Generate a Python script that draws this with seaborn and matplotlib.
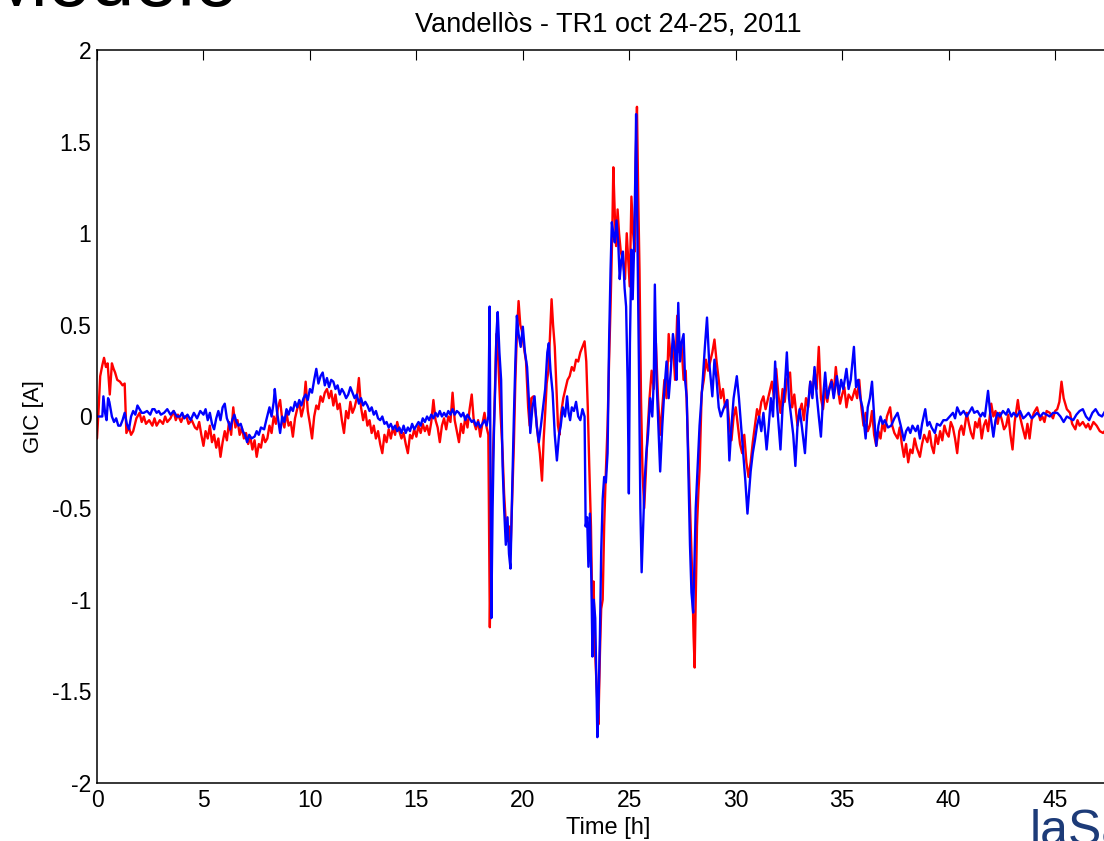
import numpy as np
import pandas as pd
import matplotlib
matplotlib.use("Agg")
import matplotlib.pyplot as plt
import seaborn as sns
from matplotlib.ticker import FuncFormatter

# ---------------- data ----------------
red_time = [0.0,0.08,0.15,0.25,0.33,0.42,0.5,0.6,0.7,0.78,0.85,0.95,1.08,1.2,1.3,1.38,1.5,1.6,1.7,1.85,
2.0,2.1,2.2,2.3,2.45,2.6,2.7,2.8,2.95,3.1,3.2,3.3,3.45,3.6,3.7,3.8,3.95,4.05,4.2,4.3,4.45,4.6,4.7,4.8,4.9,
5.0,5.1,5.2,5.3,5.4,5.5,5.6,5.7,5.8,5.9,6.0,6.1,6.2,6.3,6.4,6.5,6.6,6.7,6.8,6.9,7.0,7.1,7.2,7.3,7.4,7.5,
7.6,7.7,7.8,7.9,8.0,8.1,8.2,8.3,8.4,8.5,8.6,8.7,8.8,8.9,9.0,9.1,9.2,9.3,9.4,9.5,9.6,9.7,9.8,9.9,10.0,10.1,
10.2,10.3,10.4,10.5,10.6,10.7,10.8,10.9,11.0,11.1,11.2,11.3,11.4,11.5,11.6,11.7,11.8,11.9,12.0,12.1,12.2,
12.3,12.4,12.5,12.6,12.7,12.8,12.9,13.0,13.1,13.2,13.3,13.4,13.5,13.6,13.7,13.8,13.9,14.0,14.1,14.2,14.3,
14.4,14.5,14.6,14.7,14.8,14.9,15.0,15.1,15.2,15.3,15.4,15.5,15.6,15.7,15.8,15.9,16.0,16.1,16.2,16.3,16.4,
16.5,16.6,16.7,16.8,16.9,17.0,17.1,17.2,17.3,17.4,17.5,17.6,17.7,17.8,17.9,18.0,18.1,18.2,18.3,18.38,18.45,
18.52,18.6,18.68,18.76,18.85,18.95,19.05,19.12,19.25,19.35,19.42,19.5,19.58,19.65,19.72,19.8,19.88,19.95,
20.05,20.15,20.25,20.32,20.4,20.5,20.6,20.7,20.8,20.9,20.98,21.05,21.12,21.2,21.28,21.35,21.42,21.5,21.58,
21.65,21.72,21.8,21.9,22.0,22.1,22.2,22.3,22.4,22.5,22.6,22.7,22.8,22.9,22.98,23.05,23.12,23.2,23.26,23.32,
23.4,23.48,23.55,23.62,23.68,23.75,23.82,23.9,23.98,24.05,24.12,24.2,24.25,24.32,24.38,24.45,24.52,24.6,
24.7,24.8,24.88,24.95,25.02,25.1,25.18,25.25,25.3,25.36,25.42,25.48,25.55,25.62,25.7,25.78,25.85,25.95,
26.05,26.15,26.25,26.35,26.45,26.55,26.65,26.75,26.85,26.95,27.05,27.15,27.25,27.35,27.45,27.55,27.65,
27.72,27.8,27.88,27.95,28.02,28.07,28.12,28.18,28.25,28.3,28.4,28.5,28.6,28.7,28.8,28.9,29.0,29.1,29.2,
29.3,29.4,29.5,29.6,29.7,29.8,29.9,30.0,30.1,30.2,30.3,30.4,30.5,30.6,30.7,30.8,30.9,31.0,31.1,31.2,31.3,
31.4,31.5,31.6,31.7,31.8,31.9,32.0,32.1,32.2,32.3,32.4,32.55,32.65,32.75,32.9,33.0,33.1,33.2,33.3,33.4,
33.5,33.6,33.7,33.8,33.9,34.0,34.1,34.2,34.3,34.4,34.5,34.6,34.7,34.8,34.9,35.0,35.1,35.2,35.3,35.45,35.6,
35.7,35.8,35.9,36.0,36.1,36.2,36.3,36.4,36.5,36.6,36.7,36.8,36.9,37.0,37.1,37.25,37.35,37.45,37.6,37.7,
37.8,37.9,38.0,38.1,38.2,38.3,38.4,38.5,38.65,38.75,38.85,39.0,39.1,39.2,39.3,39.4,39.5,39.6,39.7,39.8,
39.9,40.0,40.1,40.2,40.3,40.4,40.5,40.6,40.7,40.85,40.95,41.05,41.15,41.25,41.35,41.45,41.55,41.65,41.75,
41.85,42.0,42.1,42.2,42.3,42.4,42.5,42.6,42.7,42.8,42.9,43.0,43.1,43.25,43.35,43.45,43.6,43.7,43.8,43.9,
44.0,44.15,44.3,44.4,44.5,44.6,44.75,44.9,45.0,45.1,45.2,45.3,45.4,45.55,45.7,45.8,45.95,46.05,46.15,46.3,
46.45,46.55,46.65,46.8,46.95,47.1,47.25,47.4,47.6,47.8,48.0]
red_gic = [-0.12,0.05,0.22,0.28,0.32,0.27,0.29,0.12,0.29,0.26,0.24,0.2,0.19,0.17,0.18,-0.09,-0.06,-0.1,-0.08,-0.01,
0.02,-0.03,0.0,-0.04,-0.02,-0.05,-0.01,-0.05,-0.02,-0.04,0.0,-0.03,-0.01,0.03,-0.02,0.01,-0.03,0.0,0.0,-0.04,-0.02,-0.06,-0.07,-0.03,-0.1,
-0.16,-0.08,-0.12,-0.05,-0.14,-0.1,-0.17,-0.12,-0.22,-0.14,-0.08,-0.13,-0.03,-0.1,0.05,-0.06,-0.02,-0.1,-0.06,-0.12,-0.09,-0.15,-0.11,-0.18,-0.13,-0.22,
-0.15,-0.17,-0.1,-0.14,-0.12,-0.05,-0.09,0.0,-0.04,0.05,0.09,-0.02,-0.06,0.02,-0.05,-0.03,-0.11,-0.01,0.04,0.08,0.0,0.05,0.19,0.03,-0.04,-0.12,
0.0,0.06,0.04,0.11,0.08,0.13,0.15,0.1,0.14,0.06,0.12,0.04,0.07,-0.02,-0.09,0.03,-0.01,0.08,0.02,0.05,0.1,
0.21,0.05,-0.02,0.03,-0.05,-0.02,-0.09,-0.05,-0.12,-0.08,-0.15,-0.2,-0.1,-0.14,-0.07,-0.12,-0.06,-0.1,-0.03,-0.08,-0.12,
-0.09,-0.15,-0.2,-0.1,-0.12,-0.07,-0.11,-0.05,-0.09,-0.04,-0.08,-0.05,-0.1,-0.03,0.09,-0.02,-0.06,-0.14,-0.05,-0.01,-0.07,
0.0,-0.03,0.13,-0.02,-0.08,-0.14,-0.04,-0.09,0.0,-0.06,0.04,0.12,-0.03,-0.07,-0.02,-0.11,-0.04,0.02,-0.06,-0.1,-1.15,
-0.6,-0.2,0.1,0.45,0.3,0.02,-0.2,-0.42,-0.68,-0.6,-0.75,-0.45,-0.15,0.2,0.45,0.63,0.5,0.47,
0.38,0.3,0.05,-0.05,0.1,0.11,0.02,-0.1,-0.2,-0.35,-0.12,0.02,0.18,0.25,0.45,0.64,0.5,0.38,0.15,
-0.05,-0.1,0.02,0.1,0.15,0.2,0.22,0.27,0.25,0.31,0.3,0.35,0.38,0.41,0.3,0.05,-0.27,-0.6,-1.04,-0.9,
-1.3,-1.51,-1.68,-1.3,-1.05,-1.0,-0.6,-0.3,-0.05,0.3,0.6,1.0,1.36,1.1,0.93,1.13,1.0,0.9,
0.85,0.75,1.0,0.85,0.71,1.2,1.0,0.9,1.4,1.69,1.2,0.8,0.1,-0.3,-0.5,-0.3,-0.1,0.1,
0.25,0.15,0.4,0.1,-0.1,0.05,0.2,0.1,0.45,0.3,0.4,0.2,0.55,0.35,0.4,0.2,0.25,
0.0,-0.3,-0.6,-0.85,-1.2,-1.37,-1.0,-0.6,-0.4,-0.29,0.13,0.2,0.31,0.25,0.3,0.35,0.42,0.3,0.2,
0.1,0.15,0.05,0.09,-0.05,-0.13,0.0,0.05,-0.05,-0.15,-0.2,-0.1,-0.25,-0.33,-0.25,-0.14,-0.05,0.04,0.0,0.08,0.11,
0.04,0.09,0.14,0.19,0.1,0.26,0.12,0.02,0.15,0.08,0.2,0.24,0.05,0.12,-0.05,0.03,0.07,-0.02,0.1,0.05,
0.19,0.12,0.25,0.15,0.38,0.1,0.04,0.15,0.08,0.16,0.2,0.12,0.27,0.15,0.07,0.12,0.16,0.05,0.12,0.09,0.15,
0.1,0.2,0.05,-0.05,0.02,-0.08,-0.05,0.03,-0.1,-0.16,-0.08,-0.12,-0.03,-0.08,0.0,0.05,-0.05,-0.09,-0.12,-0.06,
-0.15,-0.22,-0.15,-0.25,-0.18,-0.2,-0.12,-0.17,-0.22,-0.15,-0.1,-0.14,-0.08,-0.16,-0.2,-0.1,-0.15,-0.08,-0.13,-0.05,
-0.09,-0.11,-0.03,-0.06,-0.12,-0.2,-0.08,-0.05,-0.1,0.02,-0.04,-0.09,-0.12,-0.03,-0.06,-0.01,-0.12,-0.05,-0.02,
-0.08,0.07,0.0,0.03,-0.04,0.02,-0.02,-0.07,-0.05,0.01,-0.1,-0.18,-0.03,0.09,0.0,-0.05,-0.12,-0.04,-0.12,-0.02,
0.02,0.05,-0.02,0.0,-0.03,0.03,0.02,-0.01,0.03,0.04,0.08,0.19,0.1,0.04,0.02,-0.04,-0.07,-0.02,-0.05,-0.03,
-0.06,-0.04,-0.07,-0.03,-0.05,-0.08,-0.09,-0.07,-0.1,-0.08,-0.1]

blue_time = [0.0,0.25,0.3,0.38,0.45,0.52,0.58,0.7,0.8,0.9,1.0,1.1,1.2,1.3,1.4,1.5,1.6,1.7,1.8,1.9,2.0,2.1,2.2,
2.35,2.5,2.6,2.7,2.8,2.9,3.0,3.15,3.3,3.45,3.6,3.75,3.9,4.0,4.1,4.25,4.4,4.55,4.7,4.85,5.0,5.1,5.2,5.3,5.4,
5.5,5.6,5.7,5.8,5.9,6.0,6.1,6.2,6.25,6.35,6.45,6.55,6.65,6.75,6.85,6.95,7.05,7.15,7.25,7.4,7.5,7.6,7.7,7.85,
7.95,8.1,8.2,8.3,8.35,8.45,8.55,8.6,8.7,8.8,8.9,9.0,9.1,9.2,9.3,9.4,9.5,9.6,9.7,9.8,9.9,10.0,10.1,10.2,10.3,
10.4,10.5,10.6,10.7,10.8,10.9,11.0,11.1,11.2,11.3,11.4,11.5,11.6,11.7,11.8,11.9,12.0,12.1,12.2,12.3,12.4,
12.5,12.6,12.7,12.8,12.9,13.0,13.1,13.2,13.3,13.4,13.5,13.6,13.7,13.8,13.9,14.0,14.1,14.2,14.3,14.4,14.5,
14.6,14.7,14.8,14.9,15.0,15.1,15.2,15.3,15.4,15.5,15.6,15.7,15.8,15.9,16.0,16.1,16.2,16.3,16.4,16.5,16.6,
16.7,16.8,16.9,17.0,17.1,17.2,17.3,17.4,17.5,17.6,17.7,17.8,17.9,18.0,18.1,18.2,18.3,18.38,18.44,18.48,18.52,
18.58,18.64,18.7,18.76,18.82,18.9,18.98,19.05,19.12,19.2,19.28,19.35,19.42,19.5,19.58,19.65,19.72,19.8,
19.9,20.0,20.1,20.2,20.28,20.35,20.45,20.55,20.65,20.75,20.85,20.95,21.05,21.15,21.22,21.3,21.4,21.5,21.6,
21.7,21.78,21.88,21.98,22.08,22.15,22.22,22.3,22.4,22.5,22.6,22.7,22.8,22.9,22.95,23.02,23.08,23.15,23.22,
23.27,23.33,23.4,23.46,23.5,23.55,23.62,23.68,23.75,23.82,23.9,23.98,24.05,24.12,24.18,24.25,24.32,24.4,
24.48,24.55,24.62,24.7,24.78,24.85,24.92,24.98,25.03,25.1,25.16,25.22,25.28,25.32,25.38,25.45,25.52,25.58,
25.65,25.72,25.8,25.88,25.98,26.08,26.15,26.2,26.28,26.38,26.45,26.55,26.65,26.75,26.85,26.95,27.05,27.15,
27.22,27.3,27.38,27.45,27.55,27.62,27.7,27.78,27.85,27.92,28.0,28.06,28.12,28.2,28.3,28.45,28.55,28.65,
28.75,28.9,29.0,29.1,29.2,29.3,29.45,29.6,29.7,29.8,29.9,30.05,30.15,30.25,30.35,30.45,30.55,30.62,30.7,
30.8,30.9,31.0,31.1,31.2,31.3,31.45,31.55,31.65,31.75,31.85,31.95,32.05,32.1,32.2,32.3,32.4,32.5,32.6,32.7,
32.8,32.9,33.0,33.1,33.25,33.35,33.5,33.6,33.7,33.8,33.9,34.0,34.1,34.2,34.3,34.4,34.5,34.6,34.75,34.85,
34.95,35.05,35.2,35.3,35.4,35.55,35.65,35.75,35.85,35.95,36.1,36.2,36.3,36.4,36.5,36.6,36.7,36.8,36.9,37.0,
37.15,37.3,37.45,37.6,37.75,37.9,38.0,38.1,38.2,38.3,38.45,38.55,38.65,38.75,38.9,39.0,39.1,39.2,39.35,
39.45,39.6,39.75,39.9,40.05,40.2,40.3,40.4,40.55,40.7,40.85,41.0,41.1,41.2,41.35,41.5,41.6,41.7,41.85,41.95,
42.1,42.2,42.3,42.4,42.55,42.7,42.8,42.95,43.05,43.2,43.35,43.5,43.6,43.75,43.9,44.0,44.15,44.3,44.45,44.6,
44.75,44.9,45.1,45.25,45.4,45.55,45.7,45.85,46.0,46.15,46.3,46.45,46.6,46.75,46.9,47.05,47.2,47.35,47.5,
47.7,47.85,48.0]
blue_gic = [0.0,0.0,0.11,0.02,-0.02,0.1,0.08,0.0,-0.03,-0.01,-0.05,-0.05,-0.02,0.02,-0.04,-0.07,0.0,0.03,0.01,0.06,0.04,0.02,0.02,
0.03,0.01,0.04,0.04,0.02,0.03,0.01,0.02,0.04,0.01,0.03,0.0,0.0,0.02,-0.01,0.01,-0.02,0.02,-0.01,0.03,0.01,0.04,-0.02,0.02,-0.04,
-0.07,-0.01,0.03,-0.02,0.05,0.07,-0.01,-0.04,-0.07,-0.02,0.01,-0.03,-0.05,-0.04,-0.08,-0.1,-0.14,-0.1,-0.12,-0.11,-0.08,-0.1,-0.06,-0.07,
-0.02,0.05,0.0,0.08,0.15,0.03,-0.05,-0.09,0.0,-0.03,0.04,0.01,0.05,0.03,0.08,0.05,0.09,0.06,0.1,0.12,0.09,0.15,0.13,0.2,0.26,
0.18,0.22,0.24,0.17,0.21,0.16,0.2,0.19,0.15,0.17,0.12,0.15,0.13,0.1,0.12,0.16,0.13,0.1,0.12,0.07,0.1,
0.06,0.08,0.06,0.03,0.05,0.01,0.03,-0.01,-0.02,0.0,-0.04,-0.03,-0.06,-0.04,-0.07,-0.05,-0.08,-0.06,-0.09,-0.05,-0.09,
-0.06,-0.08,-0.04,-0.07,-0.05,-0.03,-0.05,-0.01,-0.03,0.0,-0.02,0.01,-0.01,0.02,0.0,0.03,0.0,0.02,0.0,0.03,0.01,
0.04,0.01,0.03,0.02,0.0,0.02,-0.02,0.01,-0.01,-0.03,-0.02,-0.05,-0.03,-0.06,-0.04,-0.02,-0.05,0.0,0.6,-0.2,-1.1,
-0.5,-0.1,0.15,0.45,0.57,0.35,0.2,-0.27,-0.5,-0.7,-0.55,-0.75,-0.83,-0.4,0.0,0.3,0.55,0.45,
0.38,0.49,0.35,0.27,0.1,-0.09,0.05,0.11,-0.05,-0.14,-0.05,0.05,0.15,0.35,0.4,0.25,0.13,-0.1,-0.24,
-0.1,-0.05,0.05,0.0,0.11,0.02,-0.02,0.05,0.03,0.08,0.0,-0.02,0.04,0.0,-0.6,-0.55,-0.82,-0.53,-0.9,
-1.31,-1.0,-1.1,-1.5,-1.75,-1.6,-1.2,-0.74,-0.45,-0.33,-0.36,-0.2,0.4,0.8,1.06,1.0,0.95,1.07,
0.95,0.75,0.85,0.9,0.7,0.6,0.2,-0.42,0.4,0.91,0.64,0.9,1.3,1.65,1.0,0.3,-0.5,-0.85,
-0.6,-0.36,-0.2,-0.1,0.1,0.0,0.2,0.72,0.2,-0.1,-0.3,-0.05,0.15,0.3,0.1,0.25,0.45,0.35,
0.2,0.62,0.3,0.4,0.45,0.2,0.1,-0.33,-0.7,-0.96,-1.07,-0.8,-0.5,-0.3,-0.05,0.2,0.38,0.54,
0.3,0.11,0.31,0.2,0.05,0.0,0.05,0.09,-0.24,-0.05,0.1,0.22,0.1,-0.05,-0.2,-0.35,-0.53,-0.42,-0.3,
-0.2,-0.13,-0.05,0.0,-0.08,0.02,-0.18,-0.05,0.1,0.0,0.3,0.05,-0.1,-0.18,0.05,0.15,0.35,0.1,0.0,-0.1,
-0.27,-0.05,0.04,-0.05,-0.2,0.0,0.19,0.1,0.27,0.12,0.0,-0.11,0.1,0.24,0.1,0.15,0.19,0.1,0.22,0.12,
0.2,0.15,0.26,0.15,0.2,0.38,0.16,0.2,0.1,0.05,-0.12,0.05,0.1,0.19,0.0,-0.16,-0.05,0.0,-0.04,-0.02,
-0.06,-0.05,-0.01,0.02,-0.05,-0.13,-0.08,-0.06,-0.09,-0.05,-0.08,-0.05,-0.12,-0.04,0.04,-0.05,-0.03,-0.06,-0.09,
-0.04,-0.05,-0.02,-0.02,0.0,0.02,-0.01,0.05,0.01,0.03,0.0,0.03,0.05,0.02,0.03,0.0,0.02,0.0,0.14,0.02,
-0.11,-0.02,0.02,0.0,0.03,0.01,0.04,0.0,0.02,0.0,0.03,-0.01,0.0,0.02,-0.01,0.0,0.02,0.0,0.02,0.01,
0.0,0.02,0.02,0.0,-0.03,0.0,-0.01,-0.02,0.01,0.03,0.04,0.0,-0.02,0.02,0.04,0.01,0.0,0.03,0.01,
0.03,0.0,0.02]

title_text = "Vandellòs - TR1 oct 24-25, 2011"
x_label = "Time [h]"
y_label = "GIC [A]"
x_ticks = [0, 5, 10, 15, 20, 25, 30, 35, 40, 45]
y_ticks = [-2, -1.5, -1, -0.5, 0, 0.5, 1, 1.5, 2]

# ---------------- figure ----------------
sns.set_theme(style="white")
plt.rcParams["font.family"] = ["Liberation Sans", "DejaVu Sans"]
plt.rcParams["axes.unicode_minus"] = False

W, H = 1104, 841
fig = plt.figure(figsize=(W / 100, H / 100), dpi=100)
fig.patch.set_facecolor("white")
# axes: left edge x=97px, top y=50px, bottom y=783px, right edge beyond the image
ax = fig.add_axes([97 / W, (H - 783) / H, (1119 - 97) / W, 733 / H])

red_df = pd.DataFrame({"t": red_time, "gic": red_gic})
blue_df = pd.DataFrame({"t": blue_time, "gic": blue_gic})
sns.lineplot(data=red_df, x="t", y="gic", ax=ax, color="#ff0000", lw=1.7,
             estimator=None, sort=False)
sns.lineplot(data=blue_df, x="t", y="gic", ax=ax, color="#0000ff", lw=1.7,
             estimator=None, sort=False)

ax.set_xlim(0, 48)
ax.set_ylim(-2, 2)
ax.set_xticks(x_ticks)
ax.set_yticks(y_ticks)
ax.yaxis.set_major_formatter(FuncFormatter(lambda v, p: f"{v:g}"))
ax.xaxis.set_major_formatter(FuncFormatter(lambda v, p: f"{v:g}"))
ax.tick_params(direction="in", top=True, right=True, length=7.5, width=0.8,
               labelsize=16.5, colors="black", pad=4)
for s in ax.spines.values():
    s.set_color("black")
    s.set_linewidth(1.1)
ax.grid(False)

ax.set_title(title_text, fontsize=19.5, color="black", pad=13)
ax.set_xlabel(x_label, fontsize=17, color="black", labelpad=4)
ax.set_ylabel(y_label, fontsize=16, color="black", labelpad=6)

# slide fragments around the chart (heading at top-left, logo at bottom-right)
fig.text(-16 / W, (H - 6) / H, "Modelo", fontsize=56, color="black",
         ha="left", va="baseline")
fig.text(1030 / W, -4 / H, "laSalle", fontsize=36, color="#1d3b78",
         ha="left", va="baseline")

fig.savefig("out.png", dpi=100, facecolor="white")
